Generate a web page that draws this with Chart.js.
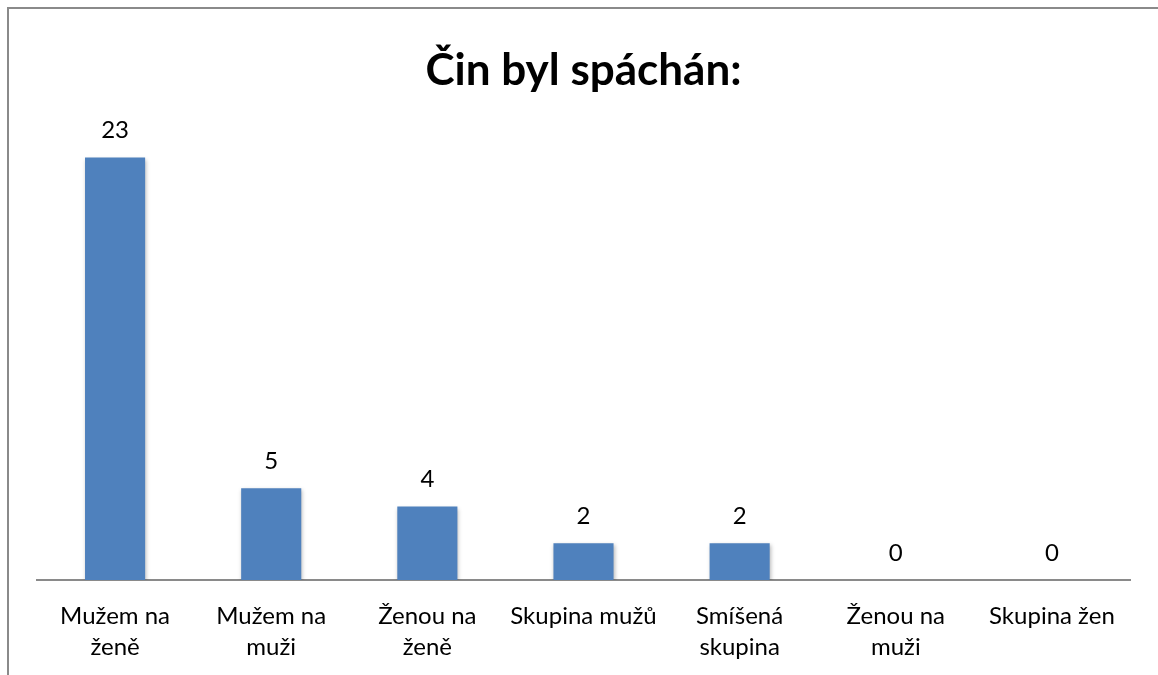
<!DOCTYPE html>
<html>
<head>
<meta charset="utf-8">
<script src="https://cdn.jsdelivr.net/npm/chart.js@4.4.1/dist/chart.umd.min.js"></script>
<style>
  body { margin: 0; background: #fff; overflow: hidden; }
  #wrap { position: relative; width: 1158px; height: 675px; }
  #frame { position: absolute; left: 7px; top: 7px; width: 1200px; height: 720px; border: 2px solid #8a8a8a; }
  canvas { position: absolute; left: 0; top: 0; }
</style>
</head>
<body>
<div id="wrap">
  <div id="frame"></div>
  <canvas id="chart" width="1158" height="675"></canvas>
</div>
<script>
const categories = [
  ['Mužem na', 'ženě'],
  ['Mužem na', 'muži'],
  ['Ženou na', 'ženě'],
  'Skupina mužů',
  ['Smíšená', 'skupina'],
  ['Ženou na', 'muži'],
  'Skupina žen'
];
const counts = [23, 5, 4, 2, 2, 0, 0];

const fontFamily = 'Lato, "Open Sans", sans-serif';

// value labels above bars
const valueLabels = {
  id: 'valueLabels',
  afterDatasetsDraw(chart) {
    const ctx = chart.ctx;
    const meta = chart.getDatasetMeta(0);
    ctx.save();
    ctx.font = '24px ' + fontFamily;
    ctx.fillStyle = '#000';
    ctx.textAlign = 'center';
    ctx.textBaseline = 'middle';
    meta.data.forEach((bar, i) => {
      ctx.fillText(String(counts[i]), bar.x, bar.y - 27);
    });
    ctx.restore();
  }
};

// soft shadow under bars
const barShadow = {
  id: 'barShadow',
  beforeDatasetsDraw(chart) {
    const ctx = chart.ctx;
    ctx.save();
    ctx.shadowColor = 'rgba(0,0,0,0.28)';
    ctx.shadowBlur = 4;
    ctx.shadowOffsetX = 1;
    ctx.shadowOffsetY = 2;
  },
  afterDatasetsDraw(chart) {
    chart.ctx.restore();
  }
};

new Chart(document.getElementById('chart').getContext('2d'), {
  type: 'bar',
  data: {
    labels: categories,
    datasets: [{
      data: counts,
      backgroundColor: '#4F81BD',
      categoryPercentage: 1,
      barPercentage: 0.385
    }]
  },
  options: {
    responsive: false,
    animation: false,
    layout: { padding: { left: 37, right: 28, top: 0, bottom: 0 } },
    plugins: {
      legend: { display: false },
      tooltip: { enabled: false },
      title: {
        display: true,
        text: 'Čin byl spáchán:',
        color: '#000',
        font: { family: fontFamily, size: 44, weight: 'bold', lineHeight: 1.2 },
        padding: { top: 44, bottom: 24 }
      }
    },
    scales: {
      x: {
        grid: { display: false, drawTicks: false },
        border: { display: true, color: '#8a8a8a', width: 2 },
        afterFit(scale) { scale.height = 95; },
        ticks: {
          color: '#000',
          autoSkip: false,
          maxRotation: 0,
          padding: 21,
          font: { family: fontFamily, size: 24, lineHeight: 1.29 }
        }
      },
      y: {
        display: false,
        min: 0,
        max: 25
      }
    }
  },
  plugins: [barShadow, valueLabels]
});
</script>
</body>
</html>
